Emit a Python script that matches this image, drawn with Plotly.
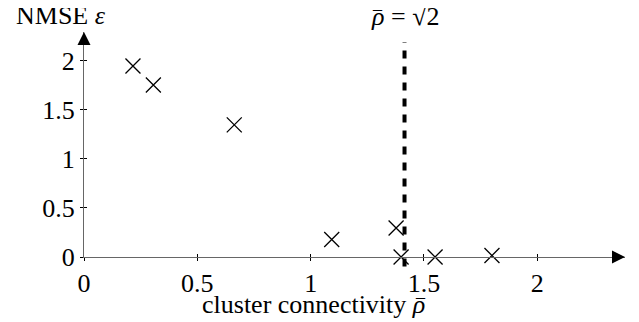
import math
import plotly.graph_objects as go

# data
rho = [0.216, 0.306, 0.663, 1.093, 1.377, 1.399, 1.549, 1.800]
nmse = [1.944, 1.751, 1.345, 0.178, 0.296, 0.000, 0.000, 0.015]
threshold = math.sqrt(2)
x_ticks = [0, 0.5, 1, 1.5, 2]
x_tick_text = ["0", "0.5", "1", "1.5", "2"]
y_ticks = [0, 0.5, 1, 1.5, 2]
y_tick_text = ["0", "0.5", "1", "1.5", "2"]

FONT = "Liberation Serif, Times New Roman, serif"
TICK_SIZE = 26
TEXT_SIZE = 26

fig = go.Figure()
fig.add_trace(go.Scatter(
    x=rho, y=nmse, mode="markers", cliponaxis=False, showlegend=False,
    marker=dict(symbol="x-thin", size=15, line=dict(width=1.3, color="black"), color="black"),
))
fig.add_trace(go.Scatter(x=[], y=[], xaxis="x2", yaxis="y2", showlegend=False, hoverinfo="skip"))

XR = [0, 2.387]
YR = [0, 2.29]

# threshold line
fig.add_shape(type="line", xref="x", yref="paper", x0=threshold, x1=threshold,
              y0=-0.042, y1=0.956, line=dict(color="black", width=4, dash="8px,8px"))

tickfont = dict(family=FONT, size=TICK_SIZE, color="black")
fig.update_layout(
    width=631, height=314,
    font=dict(family=FONT, size=TEXT_SIZE, color="black"),
    margin=dict(l=76, r=14, t=24, b=64.5, autoexpand=False),
    plot_bgcolor="white", paper_bgcolor="white",
    xaxis=dict(range=XR, tickvals=x_ticks, ticktext=x_tick_text, showline=True, linecolor="#666666",
               linewidth=1.3, ticks="outside", ticklen=3, tickwidth=1, tickcolor="black",
               automargin=False, showgrid=False, zeroline=False, tickfont=tickfont),
    yaxis=dict(range=YR, tickvals=y_ticks, ticktext=y_tick_text, showline=True, linecolor="#666666",
               linewidth=1.3, ticks="outside", ticklen=3, tickwidth=1, tickcolor="black",
               automargin=False, showgrid=False, zeroline=False, tickfont=tickfont),
    xaxis2=dict(overlaying="x", matches="x", range=XR, tickvals=x_ticks, showticklabels=False,
                ticks="inside", ticklen=3, tickwidth=1, tickcolor="black", showline=False,
                showgrid=False, zeroline=False, anchor="y2"),
    yaxis2=dict(overlaying="y", matches="y", range=YR, tickvals=y_ticks, showticklabels=False,
                ticks="inside", ticklen=3, tickwidth=1, tickcolor="black", showline=False,
                showgrid=False, zeroline=False, anchor="x2"),
)

# axis arrows
fig.add_annotation(x=XR[1], y=0, xref="x", yref="y", ax=-12, ay=0, text="", showarrow=True,
                   arrowhead=2, arrowsize=2, arrowwidth=1.3, arrowcolor="black")
fig.add_annotation(x=0, y=YR[1], xref="x", yref="y", ax=0, ay=12, text="", showarrow=True,
                   arrowhead=2, arrowsize=2, arrowwidth=1.3, arrowcolor="black")

lab = dict(family=FONT, size=TEXT_SIZE, color="black")
bar_small = dict(family=FONT, size=18, color="black")

# y label
fig.add_annotation(x=-0.13, y=1.075, xref="paper", yref="paper", xanchor="left", yanchor="middle",
                   text="NMSE <i>ε</i>", showarrow=False, font=lab)
# threshold label  rho-bar = sqrt(2)
fig.add_annotation(x=threshold, y=1.07, xref="x", yref="paper", xanchor="center", yanchor="middle",
                   text="<i>ρ</i> = √2", showarrow=False, font=lab)
fig.add_annotation(x=threshold, y=1.07, xref="x", yref="paper", xanchor="center", yanchor="middle",
                   xshift=-27, yshift=-2, text="¯", showarrow=False, font=bar_small)
fig.add_annotation(x=threshold, y=1.07, xref="x", yref="paper", xanchor="center", yanchor="middle",
                   xshift=27, yshift=5, text="¯", showarrow=False, font=dict(family=FONT, size=20, color="black"))
# x label
fig.add_annotation(x=1.514, y=-0.21, xref="x", yref="paper", xanchor="right", yanchor="middle",
                   text="cluster connectivity <i>ρ</i>", showarrow=False, font=lab)
fig.add_annotation(x=1.514, y=-0.21, xref="x", yref="paper", xanchor="center", yanchor="middle",
                   xshift=-7, yshift=-2, text="¯", showarrow=False, font=bar_small)

fig.write_html("out.html")
